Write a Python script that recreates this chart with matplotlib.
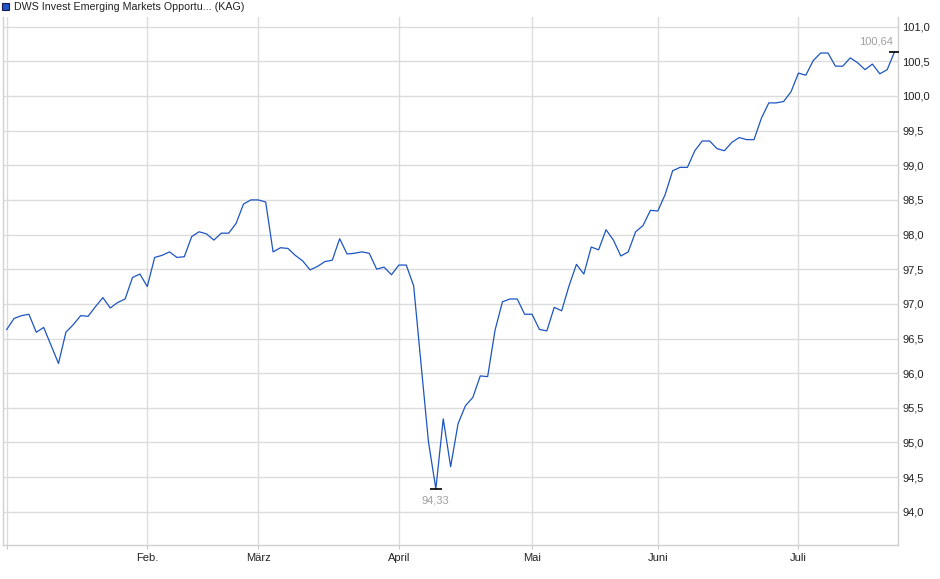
import matplotlib
matplotlib.use("Agg")
import matplotlib.pyplot as plt
from matplotlib.patches import Rectangle

plt.rcParams["font.family"] = ["Liberation Sans", "DejaVu Sans"]

# -----------------------------
# data
# -----------------------------
title = "DWS Invest Emerging Markets Opportu... (KAG)"

prices = [
    96.63, 96.79, 96.83, 96.85, 96.59, 96.66, 96.40, 96.14, 96.59, 96.70,
    96.83, 96.82, 96.96, 97.09, 96.94, 97.02, 97.07, 97.38, 97.43, 97.25,
    97.67, 97.70, 97.75, 97.67, 97.68, 97.97, 98.04, 98.01, 97.92, 98.02,
    98.02, 98.16, 98.44, 98.50, 98.50, 98.47, 97.75, 97.81, 97.80, 97.70,
    97.62, 97.49, 97.54, 97.61, 97.63, 97.94, 97.72, 97.73, 97.75, 97.73,
    97.50, 97.53, 97.42, 97.56, 97.56, 97.26, 96.13, 95.01, 94.33, 95.34,
    94.65, 95.27, 95.53, 95.65, 95.96, 95.95, 96.62, 97.03, 97.07, 97.07,
    96.85, 96.85, 96.63, 96.61, 96.95, 96.90, 97.26, 97.57, 97.43, 97.82,
    97.78, 98.07, 97.92, 97.69, 97.75, 98.04, 98.13, 98.35, 98.34, 98.58,
    98.92, 98.97, 98.97, 99.21, 99.35, 99.35, 99.24, 99.21, 99.33, 99.40,
    99.37, 99.37, 99.68, 99.90, 99.90, 99.92, 100.06, 100.33, 100.30, 100.51,
    100.62, 100.62, 100.43, 100.43, 100.55, 100.48, 100.38, 100.46, 100.32, 100.38,
    100.64,
]

# month starts as position in the price list
month_idx = [0, 19, 34, 53, 71, 88, 107]
month_labels = ["", "Feb.", "März", "April", "Mai", "Juni", "Juli"]

y_ticks = [94.0, 94.5, 95.0, 95.5, 96.0, 96.5, 97.0, 97.5,
           98.0, 98.5, 99.0, 99.5, 100.0, 100.5, 101.0]
y_labels = ["94,0", "94,5", "95,0", "95,5", "96,0", "96,5", "97,0", "97,5",
            "98,0", "98,5", "99,0", "99,5", "100,0", "100,5", "101,0"]

low_label = "94,33"
last_label = "100,64"

# -----------------------------
# plot
# -----------------------------
W, H = 940, 579
fig = plt.figure(figsize=(W / 100, H / 100), dpi=100)
ax = fig.add_axes([3 / W, 1 - 545 / H, (898.3 - 3) / W, (545 - 16.7) / H])

x = list(range(len(prices)))
line_color = "#1d55c2"
grid_color = "#dcdcdc"

ax.plot(x, prices, color=line_color, lw=0.9, zorder=3)

ax.set_xlim(-0.5, len(prices) - 0.5)
ax.set_ylim(93.52, 101.144)

ax.set_xticks(month_idx)
ax.set_xticklabels(month_labels)
ax.set_yticks(y_ticks)
ax.set_yticklabels(y_labels)

ax.yaxis.tick_right()
ax.tick_params(axis="y", length=0, pad=3, labelsize=8, colors="#222222")
ax.tick_params(axis="x", length=3, width=0.8, color="#c8c8c8", pad=3,
               labelsize=8, labelcolor="#222222")

ax.grid(True, color=grid_color, lw=1.0, zorder=0)

for side in ["left", "right", "bottom"]:
    ax.spines[side].set_color("#d0d0d0")
    ax.spines[side].set_linewidth(1.0)
ax.spines["top"].set_visible(False)

# low and last value markers
i_low = prices.index(min(prices))
i_last = len(prices) - 1
ax.plot([i_low], [prices[i_low]], marker="_", color="black", ms=9, mew=1.2, zorder=4)
ax.plot([i_last], [prices[i_last]], marker="_", color="black", ms=9, mew=1.2, zorder=4)
ax.annotate(low_label, (i_low, prices[i_low]), xytext=(0, -5),
            textcoords="offset points", ha="center", va="top",
            fontsize=8, color="#a0a0a0")
ax.annotate(last_label, (i_last, prices[i_last]), xytext=(-1, 4),
            textcoords="offset points", ha="right", va="bottom",
            fontsize=8, color="#a0a0a0")

# legend box at the top
fig.add_artist(Rectangle((2 / W, 1 - 10.3 / H), 7 / W, 7 / H,
                         transform=fig.transFigure, facecolor="#1d55c2",
                         edgecolor="#1a1a50", lw=0.8))
fig.text(14 / W, 1 - 6.5 / H, title, fontsize=7.7, color="#222222",
         ha="left", va="center")

fig.savefig("out.png", dpi=100)
